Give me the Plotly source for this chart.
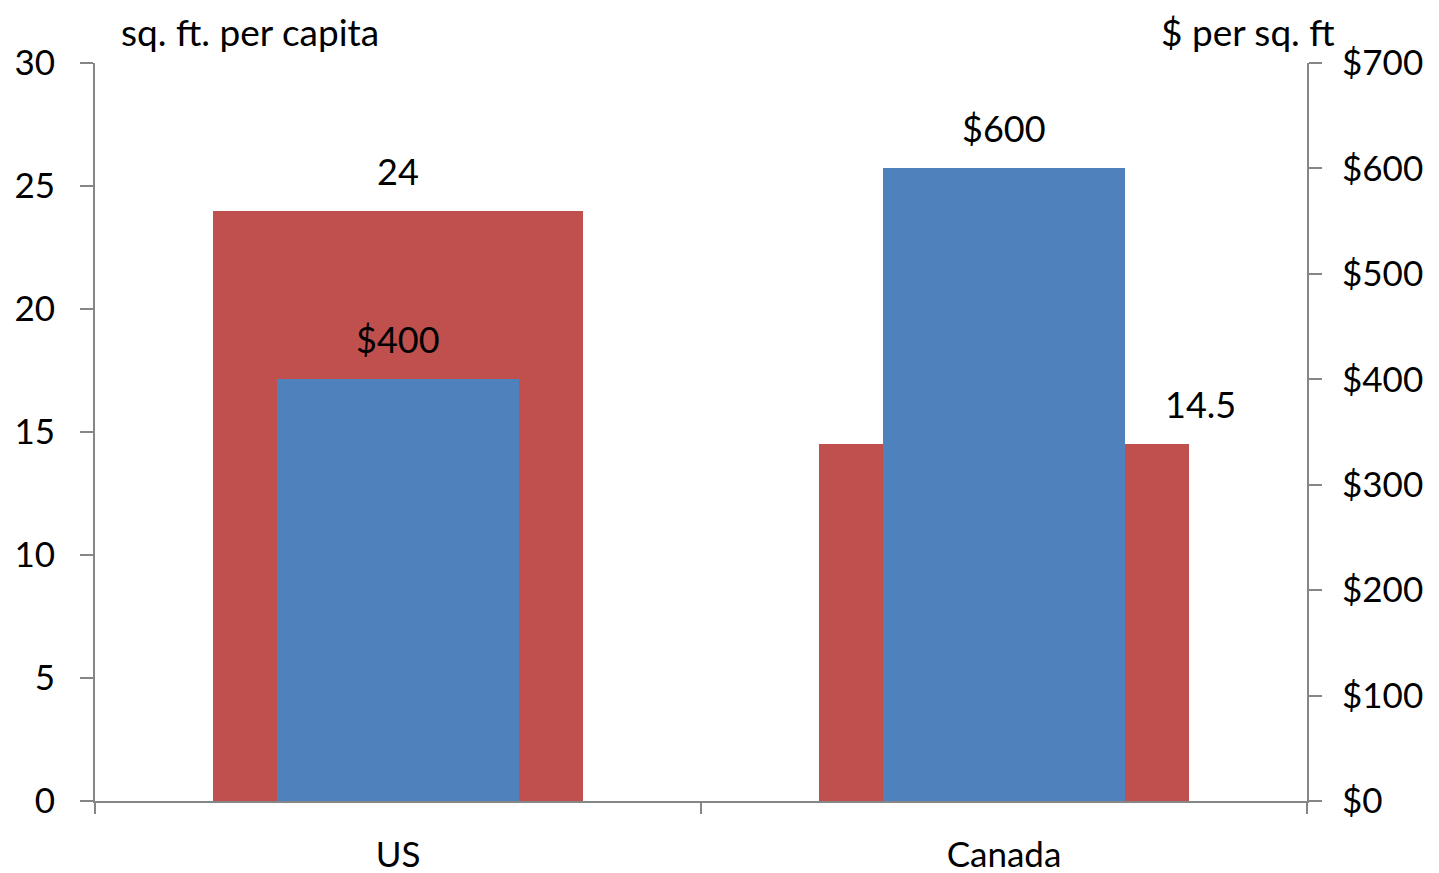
import plotly.graph_objects as go

categories = ["US", "Canada"]
sqft_per_capita = [24, 14.5]
price_per_sqft = [400, 600]
sqft_labels = ["24", "14.5"]
price_labels = ["$400", "$600"]
left_ticks = [0, 5, 10, 15, 20, 25, 30]
right_ticks = [0, 100, 200, 300, 400, 500, 600, 700]
right_tick_labels = ["$" + str(v) for v in right_ticks]

FONT = "Lato"
RED = "#C0504D"
BLUE = "#4F81BD"
AX = "#868686"

W, H = 1431, 865
ML, MR, MT, MB = 87, 132, 55, 72

fig = go.Figure()
fig.add_trace(go.Bar(x=categories, y=sqft_per_capita, width=0.612,
                     marker=dict(color=RED, line=dict(width=0)), yaxis="y",
                     hoverinfo="skip"))
fig.add_trace(go.Bar(x=categories, y=price_per_sqft, width=0.4,
                     marker=dict(color=BLUE, line=dict(width=0)), yaxis="y2",
                     hoverinfo="skip"))

annotations = []
xshifts_sqft = [0, 196]
for i, c in enumerate(categories):
    annotations.append(dict(x=c, y=sqft_per_capita[i], xref="x", yref="y",
                            text=sqft_labels[i], showarrow=False, yanchor="middle",
                            yshift=40, xshift=xshifts_sqft[i],
                            font=dict(family=FONT, size=36, color="black")))
    annotations.append(dict(x=c, y=price_per_sqft[i], xref="x", yref="y2",
                            text=price_labels[i], showarrow=False, yanchor="middle",
                            yshift=40,
                            font=dict(family=FONT, size=36, color="black")))

pw = W - ML - MR
ph = H - MT - MB
annotations.append(dict(x=(112 - ML) / pw, y=1 + MT / ph, xref="paper", yref="paper",
                        text="sq. ft. per capita", showarrow=False, xanchor="left",
                        yanchor="top", borderpad=0,
                        font=dict(family=FONT, size=37, color="black")))
annotations.append(dict(x=(1328 - ML) / pw, y=1 + MT / ph, xref="paper", yref="paper",
                        text="$ per sq. ft", showarrow=False, xanchor="right",
                        yanchor="top", borderpad=0,
                        font=dict(family=FONT, size=37, color="black")))

fig.update_layout(
    width=W, height=H,
    margin=dict(l=ML, r=MR, t=MT, b=MB, autoexpand=False),
    paper_bgcolor="white", plot_bgcolor="white",
    barmode="overlay", showlegend=False, bargap=0,
    font=dict(family=FONT, size=35, color="black"),
    xaxis=dict(type="category", range=[-0.5, 1.5], showline=True, linecolor=AX, linewidth=2,
               ticks="outside", tickson="boundaries", ticklen=11, tickwidth=2, tickcolor=AX,
               showgrid=False, zeroline=False, tickfont=dict(family=FONT, size=35),
               ticklabelstandoff=22),
    yaxis=dict(range=[0, 30], tickvals=left_ticks, showline=True, linecolor=AX, linewidth=2,
               ticks="outside", ticklen=13, tickwidth=2, tickcolor=AX, showgrid=False,
               zeroline=False, tickfont=dict(family=FONT, size=35), ticklabelstandoff=18),
    yaxis2=dict(range=[0, 700], tickvals=right_ticks, ticktext=right_tick_labels,
                overlaying="y", side="right", showline=True, linecolor=AX, linewidth=2,
                ticks="outside", ticklen=13, tickwidth=2, tickcolor=AX, showgrid=False,
                zeroline=False, tickfont=dict(family=FONT, size=35), ticklabelstandoff=13),
    annotations=annotations,
)

fig.write_html("out.html")
